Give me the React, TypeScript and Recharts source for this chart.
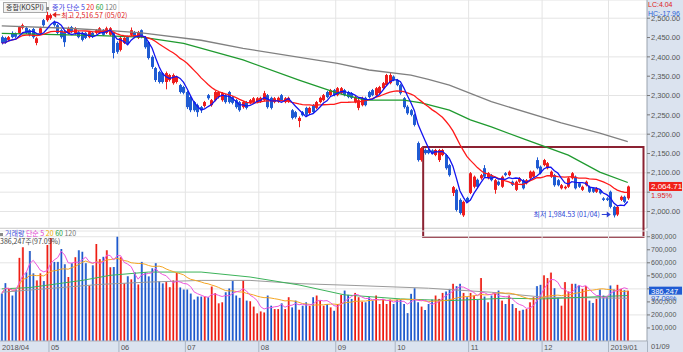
import React from 'react';
import {
  ComposedChart,
  Bar,
  Line,
  XAxis,
  YAxis,
  CartesianGrid,
  ReferenceArea,
  ReferenceDot,
  ReferenceLine,
  Cell,
} from 'recharts';

const CHART_W = 683;
const AXIS_W = 36;
const SLOTS = 185; // 180 trading days + empty room on the right
const SLOT = (CHART_W - AXIS_W) / SLOTS;

const RED = '#ee1d1d';
const BLUE = '#1f5bd3';
const PANEL = '#dbe3ef';
const NUM_FONT = "'Liberation Sans', 'DejaVu Sans', sans-serif";
const KR_FONT = "'Noto Sans CJK KR', 'Liberation Sans', sans-serif";

const months = ['2018/04', '05', '06', '07', '08', '09', '10', '11', '12', '2019/01'];
const monthStarts = [0, 14, 34, 53, 74, 96, 113, 134, 155, 174];

const opens = [
  2451, 2449, 2444, 2462, 2460, 2462, 2475, 2475, 2469, 2472,
  2436, 2461, 2495, 2495, 2500, 2490, 2482, 2469, 2464, 2462,
  2477, 2461, 2464, 2462, 2462, 2451, 2462, 2462, 2462, 2469,
  2462, 2457, 2462, 2436, 2418, 2436, 2451, 2457, 2464, 2449,
  2469, 2451, 2438, 2400, 2371, 2361, 2358, 2335, 2340, 2332,
  2335, 2327, 2322, 2309, 2296, 2283, 2275, 2270, 2273, 2301,
  2275, 2288, 2296, 2288, 2301, 2309, 2296, 2288, 2283, 2270,
  2283, 2281, 2283, 2283, 2284, 2288, 2301, 2294, 2283, 2284,
  2301, 2283, 2284, 2262, 2257, 2234, 2257, 2268, 2255, 2275,
  2268, 2283, 2288, 2309, 2301, 2314, 2301, 2306, 2314, 2309,
  2306, 2283, 2268, 2275, 2294, 2309, 2314, 2301, 2306, 2319,
  2327, 2332, 2349, 2340, 2327, 2293, 2271, 2262, 2250, 2177,
  2133, 2159, 2159, 2158, 2146, 2133, 2146, 2146, 2120, 2048,
  2056, 2030, 1990, 2035, 2048, 2064, 2082, 2086, 2112, 2086,
  2094, 2056, 2077, 2064, 2099, 2094, 2077, 2056, 2077, 2081,
  2073, 2086, 2090, 2133, 2116, 2120, 2112, 2090, 2094, 2081,
  2060, 2060, 2064, 2086, 2090, 2073, 2056, 2068, 2064, 2060,
  2051, 2055, 2034, 2034, 2051, 2012, 1992, 2030, 2038, 2034,
];

const closes = [
  2436, 2438, 2451, 2451, 2452, 2477, 2482, 2462, 2457, 2451,
  2448, 2474, 2482, 2508, 2508, 2482, 2462, 2451, 2438, 2474,
  2464, 2474, 2451, 2444, 2449, 2464, 2452, 2469, 2474, 2457,
  2474, 2474, 2410, 2413, 2449, 2449, 2436, 2469, 2451, 2464,
  2451, 2425, 2397, 2374, 2340, 2335, 2335, 2358, 2353, 2353,
  2348, 2309, 2307, 2270, 2262, 2262, 2257, 2262, 2283, 2293,
  2288, 2309, 2309, 2306, 2283, 2283, 2281, 2270, 2262, 2283,
  2268, 2288, 2293, 2293, 2294, 2306, 2270, 2268, 2293, 2294,
  2288, 2293, 2294, 2242, 2244, 2242, 2249, 2250, 2268, 2257,
  2283, 2294, 2301, 2296, 2314, 2301, 2319, 2319, 2301, 2296,
  2294, 2296, 2288, 2294, 2275, 2296, 2301, 2319, 2322, 2332,
  2353, 2353, 2340, 2327, 2306, 2270, 2254, 2250, 2224, 2133,
  2164, 2151, 2151, 2150, 2159, 2159, 2159, 2112, 2094, 2063,
  2004, 1996, 2025, 2025, 2099, 2090, 2064, 2094, 2090, 2099,
  2081, 2081, 2069, 2090, 2094, 2103, 2069, 2077, 2086, 2060,
  2081, 2103, 2103, 2112, 2099, 2133, 2125, 2103, 2068, 2068,
  2068, 2064, 2086, 2099, 2060, 2064, 2064, 2077, 2051, 2051,
  2060, 2047, 2030, 2030, 2012, 1990, 2012, 2038, 2025, 2064.71,
];

const highs = [
  2455, 2452, 2454, 2466, 2463, 2480, 2486, 2478, 2472, 2475,
  2451, 2478, 2498, 2516.57, 2512, 2494, 2485, 2472, 2467, 2478,
  2480, 2477, 2467, 2465, 2464, 2467, 2465, 2472, 2477, 2472,
  2478, 2477, 2464, 2440, 2452, 2451, 2455, 2476, 2467, 2467,
  2471, 2454, 2441, 2404, 2374, 2364, 2361, 2362, 2356, 2357,
  2351, 2330, 2325, 2312, 2300, 2286, 2279, 2273, 2286, 2304,
  2291, 2312, 2312, 2309, 2304, 2312, 2299, 2291, 2286, 2286,
  2286, 2291, 2296, 2296, 2297, 2312, 2304, 2297, 2296, 2297,
  2304, 2296, 2297, 2265, 2260, 2246, 2260, 2271, 2271, 2278,
  2286, 2297, 2304, 2312, 2317, 2317, 2322, 2322, 2317, 2312,
  2309, 2299, 2291, 2297, 2297, 2312, 2317, 2322, 2325, 2335,
  2356, 2358, 2352, 2343, 2330, 2296, 2275, 2265, 2253, 2181,
  2167, 2163, 2162, 2161, 2162, 2162, 2162, 2149, 2123, 2066,
  2059, 2034, 2028, 2038, 2102, 2093, 2085, 2097, 2120, 2102,
  2097, 2084, 2080, 2093, 2102, 2106, 2080, 2080, 2089, 2084,
  2084, 2106, 2106, 2140, 2119, 2136, 2128, 2106, 2097, 2084,
  2071, 2067, 2089, 2102, 2093, 2076, 2067, 2080, 2067, 2063,
  2063, 2058, 2037, 2037, 2054, 2015, 2015, 2041, 2041, 2067,
];

const lows = [
  2432, 2434, 2440, 2448, 2448, 2459, 2471, 2459, 2453, 2447,
  2430, 2458, 2478, 2491, 2496, 2478, 2458, 2447, 2426, 2458,
  2461, 2457, 2448, 2440, 2446, 2448, 2449, 2459, 2459, 2454,
  2459, 2454, 2396, 2408, 2414, 2433, 2432, 2454, 2448, 2446,
  2448, 2421, 2393, 2369, 2335, 2331, 2331, 2316, 2336, 2328,
  2331, 2305, 2303, 2265, 2257, 2258, 2245, 2255, 2269, 2289,
  2271, 2285, 2292, 2284, 2279, 2279, 2277, 2266, 2258, 2266,
  2264, 2277, 2279, 2280, 2281, 2285, 2266, 2264, 2280, 2281,
  2285, 2280, 2281, 2238, 2240, 2218, 2246, 2247, 2252, 2254,
  2265, 2280, 2285, 2293, 2298, 2298, 2298, 2303, 2298, 2293,
  2291, 2280, 2262, 2272, 2272, 2293, 2298, 2298, 2303, 2316,
  2324, 2329, 2337, 2324, 2302, 2266, 2250, 2246, 2220, 2129,
  2129, 2147, 2148, 2147, 2143, 2128, 2143, 2108, 2090, 2040,
  2000, 1992, 1986, 2022, 2045, 2060, 2060, 2082, 2087, 2083,
  2078, 2046, 2066, 2061, 2091, 2091, 2066, 2053, 2074, 2057,
  2070, 2083, 2087, 2109, 2096, 2117, 2109, 2087, 2064, 2065,
  2057, 2057, 2061, 2083, 2057, 2061, 2053, 2065, 2048, 2048,
  2048, 2044, 2027, 2027, 2008, 1984.53, 1988, 2027, 2022, 2030,
];

const volumes = [
  364000, 444000, 403000, 349000, 395000, 638000, 720000, 527000, 690000, 519000,
  465000, 519000, 460000, 736000, 790000, 607000, 607000, 705000, 589000, 491000,
  597000, 643000, 697000, 684000, 597000, 426000, 581000, 744000, 628000, 646000,
  697000, 566000, 568000, 800000, 643000, 442000, 496000, 473000, 527000, 434000,
  607000, 527000, 496000, 558000, 597000, 457000, 442000, 452000, 413000, 465000,
  522000, 411000, 395000, 395000, 364000, 318000, 341000, 341000, 341000, 336000,
  418000, 367000, 289000, 297000, 374000, 403000, 460000, 349000, 331000, 465000,
  310000, 305000, 264000, 212000, 227000, 219000, 349000, 271000, 245000, 245000,
  289000, 245000, 336000, 258000, 310000, 240000, 271000, 297000, 271000, 336000,
  349000, 310000, 271000, 284000, 258000, 232000, 284000, 354000, 387000, 354000,
  323000, 369000, 336000, 302000, 297000, 336000, 310000, 349000, 284000, 323000,
  284000, 318000, 284000, 318000, 318000, 284000, 214000, 362000, 405000, 297000,
  264000, 238000, 284000, 318000, 349000, 323000, 369000, 380000, 400000, 439000,
  421000, 439000, 369000, 336000, 369000, 349000, 315000, 483000, 341000, 297000,
  349000, 369000, 387000, 310000, 284000, 349000, 284000, 253000, 232000, 240000,
  245000, 297000, 336000, 421000, 431000, 504000, 483000, 525000, 405000, 336000,
  271000, 452000, 380000, 439000, 439000, 426000, 400000, 421000, 310000, 292000,
  323000, 395000, 349000, 336000, 426000, 395000, 431000, 400000, 390000, 386247,
];

// long moving averages at a few points
const ma60Idx = [0, 28, 40, 52, 69, 85, 96, 104, 115, 120, 128, 134, 140, 150, 162, 171, 179];
const ma60Val = [2461, 2455, 2451, 2435, 2392, 2340, 2306, 2288, 2288, 2281, 2262, 2237, 2219, 2185, 2146, 2102, 2075];
const ma120Idx = [0, 19, 31, 40, 57, 69, 96, 105, 117, 122, 128, 140, 160, 171, 179];
const ma120Val = [2480, 2474, 2468, 2462, 2443, 2422, 2383, 2366, 2353, 2342, 2327, 2284, 2229, 2203, 2181];
const vma60Idx = [0, 8, 23, 31, 42, 57, 71, 85, 98, 114, 128, 144, 155, 179];
const vma60Val = [400000, 410000, 465000, 504000, 529000, 529000, 491000, 430000, 354000, 323000, 310000, 328000, 323000, 349000];
const vma120Idx = [0, 28, 42, 57, 71, 85, 101, 122, 140, 155, 179];
const vma120Val = [374000, 434000, 452000, 465000, 465000, 440000, 426000, 405000, 374000, 336000, 328000];

const priceTicks = [2000, 2050, 2100, 2150, 2200, 2250, 2300, 2350, 2400, 2450, 2500];
const volTicks = [100000, 200000, 300000, 400000, 500000, 600000, 700000, 800000];

function movingAvg(src: number[], n: number) {
  return src.map((_, i) => {
    const w = src.slice(Math.max(0, i - n + 1), i + 1);
    return w.reduce((a, b) => a + b, 0) / w.length;
  });
}

const keyed = (idx: number[], val: number[]) => new Map(idx.map((k, j) => [k, val[j]]));

const ma5 = movingAvg(closes, 5);
const ma20 = movingAvg(closes, 20);
const vma5 = movingAvg(volumes, 5);
const vma20 = movingAvg(volumes, 20);
const ma60 = keyed(ma60Idx, ma60Val);
const ma120 = keyed(ma120Idx, ma120Val);
const vma60 = keyed(vma60Idx, vma60Val);
const vma120 = keyed(vma120Idx, vma120Val);

const data = Array.from({ length: SLOTS }, (_, i) => {
  if (i >= closes.length) return { idx: i };
  return {
    idx: i,
    open: opens[i],
    close: closes[i],
    high: highs[i],
    low: lows[i],
    range: [lows[i], highs[i]],
    volume: volumes[i],
    ma5: ma5[i],
    ma20: ma20[i],
    ma60: ma60.get(i) ?? null,
    ma120: ma120.get(i) ?? null,
    vma5: vma5[i],
    vma20: vma20[i],
    vma60: vma60.get(i) ?? null,
    vma120: vma120.get(i) ?? null,
  };
});

const last = closes.length - 1;

function Candle(props: any) {
  const { x, y, width, height, payload } = props;
  if (!payload || payload.open == null) return null;
  const { open, close, high, low } = payload;
  const top = Math.min(y, y + height);
  const h = Math.abs(height);
  const span = high - low || 1;
  const py = (v: number) => top + ((high - v) / span) * h;
  const color = close >= open ? RED : BLUE;
  const cx = Math.round(x + width / 2) + 0.5;
  const bTop = py(Math.max(open, close));
  const bH = Math.max(1, py(Math.min(open, close)) - bTop);
  return (
    <g>
      <line x1={cx} x2={cx} y1={top} y2={top + h} stroke={color} strokeWidth={1} />
      <rect x={cx - 1.5} y={bTop} width={3} height={bH} fill={color} />
    </g>
  );
}

function MonthTick(props: any) {
  const { x, y, payload } = props;
  const k = monthStarts.indexOf(payload.value);
  if (k < 0) return null;
  const left = x - SLOT / 2;
  return (
    <g>
      {k > 0 && <line x1={left} x2={left} y1={y} y2={y + 11} stroke="#aab4c2" />}
      <text x={left + 2} y={y + 8.5} fontSize={7.5} fill="#555" fontFamily={NUM_FONT}>
        {months[k]}
      </text>
    </g>
  );
}

const monthLines = (p: any) => {
  const left = p?.offset?.left ?? 0;
  return monthStarts.slice(1).map((i) => left + i * SLOT);
};

function PriceTag(props: any) {
  const vb = props.viewBox;
  if (!vb) return null;
  const x = vb.x + vb.width + 2;
  return (
    <g fontFamily={NUM_FONT}>
      <rect x={x} y={vb.y - 4.5} width={33} height={9} fill="#f0211a" />
      <text x={x + 2} y={vb.y + 3} fontSize={8} fill="#fff">2,064.71</text>
      <text x={x + 2} y={vb.y + 11.5} fontSize={7.5} fill="#e0201a">1.95%</text>
    </g>
  );
}

function VolTag(props: any) {
  const vb = props.viewBox;
  if (!vb) return null;
  const x = vb.x + vb.width + 2;
  return (
    <g fontFamily={NUM_FONT}>
      <rect x={x} y={vb.y - 4} width={33} height={8} fill="#1f5bd3" />
      <text x={x + 2} y={vb.y + 3} fontSize={7.5} fill="#fff">386,247</text>
      <text x={x + 2} y={vb.y + 10} fontSize={7.5} fill="#1f5bd3">97.09%</text>
    </g>
  );
}

function HighNote(props: any) {
  const vb = props.viewBox;
  if (!vb) return null;
  const x = vb.x + 6;
  const y = vb.y + 4;
  return (
    <g>
      <polygon points={`${x},${y} ${x + 4},${y - 3} ${x + 4},${y + 3}`} fill="#e0201a" />
      <line x1={x + 3} x2={x + 8} y1={y} y2={y} stroke="#e0201a" />
      <text x={x + 9} y={y + 3} fontSize={7} fill="#e0201a" fontFamily={KR_FONT}>
        최고 2,516.57 (05/02)
      </text>
    </g>
  );
}

function LowNote(props: any) {
  const vb = props.viewBox;
  if (!vb) return null;
  const x = vb.x - 2;
  const y = vb.y - 2;
  return (
    <g>
      <polygon points={`${x},${y} ${x - 4},${y - 3} ${x - 4},${y + 3}`} fill="#2b3fd6" />
      <line x1={x - 9} x2={x - 3} y1={y} y2={y} stroke="#2b3fd6" />
      <text x={x - 11} y={y + 2.5} fontSize={7} fill="#2b3fd6" textAnchor="end" fontFamily={KR_FONT}>
        최저 1,984.53 (01/04)
      </text>
    </g>
  );
}

// the price tag sits on the 2,050 row and the volume tag on the 400,000 row
const fmtPrice = (v: number) =>
  v === 2050 ? '' : v.toLocaleString('en-US', { minimumFractionDigits: 2, maximumFractionDigits: 2 });
const fmtVol = (v: number) => (v === 400000 ? '' : v.toLocaleString('en-US'));

const legendText: React.CSSProperties = { position: 'absolute', fontFamily: KR_FONT, fontSize: 7, lineHeight: '9px', whiteSpace: 'nowrap' };

export default function App() {
  return (
    <div style={{ position: 'absolute', left: 0, top: 0, width: CHART_W, height: 352, background: '#fff', overflow: 'hidden' }}>
      <style>{'.recharts-surface{overflow:visible}.recharts-line-dots,.recharts-line .recharts-dot{display:none}'}</style>
      <div style={{ position: 'absolute', left: 647, top: 0, width: 36, height: 341, background: PANEL }} />
      <div style={{ position: 'absolute', left: 0, top: 341, width: CHART_W, height: 11, background: PANEL }} />
      <div style={{ position: 'absolute', left: 0, top: 228, width: 647, height: 1, background: '#c9c9c9' }} />

      <div style={{ position: 'absolute', left: 0, top: 0 }}>
        <ComposedChart width={CHART_W} height={228} data={data} margin={{ top: 0, right: 0, bottom: 0, left: 0 }} barCategoryGap={0}>
          <CartesianGrid stroke="#e4e4e4" verticalCoordinatesGenerator={monthLines} />
          <XAxis dataKey="idx" hide />
          <YAxis
            orientation="right"
            width={AXIS_W}
            domain={[1957.3, 2547.1]}
            ticks={priceTicks}
            allowDataOverflow
            tickFormatter={fmtPrice}
            tick={{ fontSize: 7.5, fill: '#555', fontFamily: NUM_FONT }}
            tickSize={3}
            tickMargin={1}
            axisLine={{ stroke: '#9aa3ae' }}
            tickLine={{ stroke: '#777' }}
          />
          <Line dataKey="ma120" stroke="#808080" strokeWidth={1.3} dot={false} activeDot={false} connectNulls isAnimationActive={false} />
          <Line dataKey="ma60" stroke="#1f9a2f" strokeWidth={1.3} dot={false} activeDot={false} connectNulls isAnimationActive={false} />
          <Line dataKey="ma20" stroke="#ff1a1a" strokeWidth={1.3} dot={false} activeDot={false} isAnimationActive={false} />
          <Bar dataKey="range" shape={Candle} isAnimationActive={false} />
          <Line dataKey="ma5" stroke="#1414f0" strokeWidth={1.3} dot={false} activeDot={false} isAnimationActive={false} />
          <ReferenceArea x1={121} x2={183} y1={1934} y2={2167} ifOverflow="visible" fill="none" stroke="#8b2232" strokeWidth={2} />
          <ReferenceDot x={13} y={highs[13]} r={1} fill="none" stroke="none" label={(p: any) => <HighNote {...p} />} />
          <ReferenceDot x={175} y={lows[175]} r={1} fill="none" stroke="none" label={(p: any) => <LowNote {...p} />} />
          <ReferenceLine y={closes[last]} stroke="none" label={(p: any) => <PriceTag {...p} />} />
        </ComposedChart>
      </div>

      <div style={{ position: 'absolute', left: 0, top: 228 }}>
        <ComposedChart width={CHART_W} height={124} data={data} margin={{ top: 3, right: 0, bottom: 0, left: 0 }} barCategoryGap="22%">
          <defs>
            <linearGradient id="vRed" x1="0" x2="1" y1="0" y2="0">
              <stop offset="0" stopColor="#ff8f86" />
              <stop offset="0.45" stopColor="#f2231a" />
              <stop offset="1" stopColor="#e0120a" />
            </linearGradient>
            <linearGradient id="vBlue" x1="0" x2="1" y1="0" y2="0">
              <stop offset="0" stopColor="#7fa6ee" />
              <stop offset="0.45" stopColor="#2360d4" />
              <stop offset="1" stopColor="#1549b8" />
            </linearGradient>
          </defs>
          <CartesianGrid stroke="#e4e4e4" verticalCoordinatesGenerator={monthLines} />
          <XAxis
            dataKey="idx"
            height={11}
            ticks={monthStarts}
            interval={0}
            tick={<MonthTick />}
            tickSize={0}
            tickMargin={0}
            axisLine={{ stroke: '#aab4c2' }}
            tickLine={false}
          />
          <YAxis
            orientation="right"
            width={AXIS_W}
            domain={[0, 844000]}
            ticks={volTicks}
            allowDataOverflow
            tickFormatter={fmtVol}
            tick={{ fontSize: 7, fill: '#555', fontFamily: NUM_FONT }}
            tickSize={3}
            tickMargin={1}
            axisLine={{ stroke: '#9aa3ae' }}
            tickLine={{ stroke: '#777' }}
          />
          <Bar dataKey="volume" isAnimationActive={false}>
            {data.map((d: any, i) => (
              <Cell key={i} fill={d.close >= d.open ? 'url(#vRed)' : 'url(#vBlue)'} />
            ))}
          </Bar>
          <Line dataKey="vma120" stroke="#9a9a9a" strokeWidth={1} dot={false} activeDot={false} connectNulls isAnimationActive={false} />
          <Line dataKey="vma60" stroke="#3cb35a" strokeWidth={1} dot={false} activeDot={false} connectNulls isAnimationActive={false} />
          <Line dataKey="vma20" stroke="#f5a623" strokeWidth={1} dot={false} activeDot={false} isAnimationActive={false} />
          <Line dataKey="vma5" stroke="#ee55dd" strokeWidth={1} dot={false} activeDot={false} isAnimationActive={false} />
          <ReferenceLine y={volumes[last]} stroke="none" label={(p: any) => <VolTag {...p} />} />
        </ComposedChart>
      </div>

      {/* price legend */}
      <div style={{ ...legendText, left: 3, top: 2, height: 9, padding: '0 2px', border: '1px solid #a8a8a8', background: '#f2f2f2', color: '#333', lineHeight: '9px' }}>
        종합(KOSPI)
      </div>
      <div style={{ ...legendText, left: 46, top: 3 }}>
        <span style={{ display: 'inline-block', width: 3, height: 3, background: '#8a8a8a', marginRight: 3, verticalAlign: 'middle' }} />
        <span style={{ color: '#3a3ae0' }}>종가 단순 5 </span>
        <span style={{ color: '#ee2222' }}>20 </span>
        <span style={{ color: '#22a033' }}>60 </span>
        <span style={{ color: '#777' }}>120</span>
      </div>

      {/* volume legend */}
      <div style={{ ...legendText, lineHeight: '7px', left: 0, top: 230 }}>
        <span style={{ display: 'inline-block', width: 3, height: 3, background: '#8a8a8a', marginRight: 2, verticalAlign: 'middle' }} />
        <span style={{ color: '#3a4ad8' }}>거래량 </span>
        <span style={{ color: '#e040d0' }}>단순 5 </span>
        <span style={{ color: '#f0b000' }}>20 </span>
        <span style={{ color: '#22a033' }}>60 </span>
        <span style={{ color: '#777' }}>120</span>
      </div>
      <div style={{ ...legendText, lineHeight: '7px', left: 0, top: 237.5, color: '#444' }}>386,247주(97.09%)</div>

      {/* right panel notes */}
      <div style={{ ...legendText, fontFamily: NUM_FONT, left: 648, top: 0, color: '#e0201a' }}>LC:4.04</div>
      <div style={{ ...legendText, fontFamily: NUM_FONT, left: 648, top: 9, color: '#2b5fd6' }}>HC:-17.96</div>
      <div style={{ position: 'absolute', left: 647, top: 341, width: 1, height: 11, background: '#aab4c2' }} />
      <div style={{ ...legendText, fontFamily: NUM_FONT, fontSize: 7.5, left: 651, top: 342, color: '#555' }}>01/09</div>
    </div>
  );
}
